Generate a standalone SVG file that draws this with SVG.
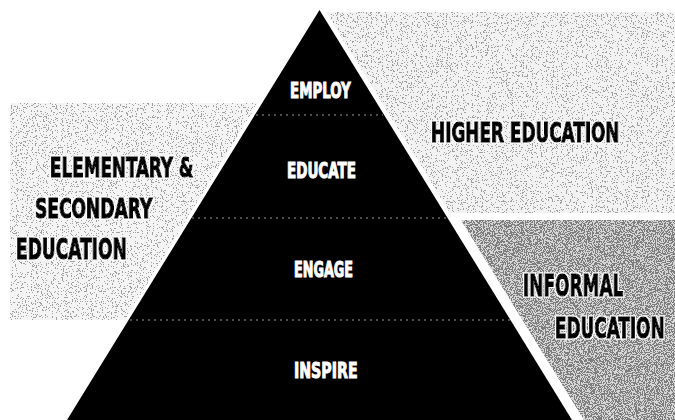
<svg xmlns="http://www.w3.org/2000/svg" width="675" height="420" viewBox="0 0 675 420">
<style>
.in{font-family:"DejaVu Sans Condensed","DejaVu Sans","Liberation Sans Narrow",sans-serif;font-weight:bold;fill:#fff;stroke:#fff;stroke-width:1}
.out{font-family:"DejaVu Sans Condensed","DejaVu Sans","Liberation Sans Narrow",sans-serif;font-weight:bold;fill:#000;stroke:#000;stroke-width:1.5}
.lbl{filter:url(#halo)}
.sep{stroke:#9a9a9a;stroke-width:1;stroke-dasharray:2 4}
</style>
<defs>
<filter id="halo" x="-5%" y="-10%" width="110%" height="120%">
<feMorphology in="SourceAlpha" operator="dilate" radius="1.2" result="d"/>
<feFlood flood-color="#fff"/>
<feComposite in2="d" operator="in" result="w"/>
<feMerge><feMergeNode in="w"/><feMergeNode in="SourceGraphic"/></feMerge>
</filter>
<filter id="speckLight" x="0" y="0" width="1" height="1">
<feTurbulence type="fractalNoise" baseFrequency="0.8" numOctaves="2" seed="4" result="n"/>
<feColorMatrix in="n" type="matrix" values="0 0 0 0 0.25  0 0 0 0 0.25  0 0 0 0 0.25  1 0 0 0 0" result="a"/>
<feComponentTransfer in="a" result="t"><feFuncA type="discrete" tableValues="0 0 0 0 0 0 0 0 0 0 0.85 0.85 0.85 0.85 0.85 0.85"/></feComponentTransfer>
<feComposite in="t" in2="SourceGraphic" operator="in" result="dots"/>
<feMerge><feMergeNode in="SourceGraphic"/><feMergeNode in="dots"/></feMerge>
</filter>
<filter id="speckDark" x="0" y="0" width="1" height="1">
<feTurbulence type="fractalNoise" baseFrequency="0.9" numOctaves="2" seed="9" result="n"/>
<feColorMatrix in="n" type="matrix" values="0 0 0 0 0.15  0 0 0 0 0.15  0 0 0 0 0.15  1 0 0 0 0" result="a"/>
<feComponentTransfer in="a" result="t"><feFuncA type="discrete" tableValues="0 0 0 0 0 0 0 0 0.9 0.9 0.9 0.9 0.9 0.9 0.9 0.9"/></feComponentTransfer>
<feComposite in="t" in2="SourceGraphic" operator="in" result="dots"/>
<feMerge><feMergeNode in="SourceGraphic"/><feMergeNode in="dots"/></feMerge>
</filter>
</defs>
<rect width="675" height="420" fill="#fff"/>
<g id="elementary-bg"><polygon points="10,103 258,103 125,320 10,320" fill="#f4f4f4" filter="url(#speckLight)"/></g>
<g id="higher-bg"><polygon points="326,12 675,12 675,213 450,213" fill="#f2f2f2" filter="url(#speckLight)"/></g>
<g id="informal-bg"><polygon points="461,220 675,220 675,420 584,420" fill="#d6d6d6" filter="url(#speckDark)"/></g>
<g id="pyramid"><polygon points="319.5,10 67,420 572,420" fill="#000"/></g>
<g id="connectors">
<line class="sep" x1="256" y1="115" x2="383" y2="115"/>
<line class="sep" x1="192" y1="218" x2="447" y2="218"/>
<line class="sep" x1="130" y1="320" x2="510" y2="320"/>
</g>
<g id="employ"><text class="in" font-size="21" transform="translate(290,98) scale(0.708,1)">EMPLOY</text></g>
<g id="educate"><text class="in" font-size="21" transform="translate(287,178) scale(0.714,1)">EDUCATE</text></g>
<g id="engage"><text class="in" font-size="21" transform="translate(294,277) scale(0.677,1)">ENGAGE</text></g>
<g id="inspire"><text class="in" font-size="22" transform="translate(294,378) scale(0.716,1)">INSPIRE</text></g>
<g id="higher-education" class="lbl"><text class="out" font-size="27" transform="translate(431,142) scale(0.696,1)">HIGHER EDUCATION</text></g>
<g id="elementary-secondary" class="lbl">
<text class="out" font-size="27" transform="translate(50,177) scale(0.692,1)">ELEMENTARY &amp;</text>
<text class="out" font-size="26" transform="translate(35,218) scale(0.731,1)">SECONDARY</text>
<text class="out" font-size="28" transform="translate(16,259) scale(0.678,1)">EDUCATION</text>
</g>
<g id="informal-education" class="lbl">
<text class="out" font-size="30" transform="translate(523,296) scale(0.629,1)">INFORMAL</text>
<text class="out" font-size="29" transform="translate(555,338) scale(0.648,1)">EDUCATION</text>
</g>
</svg>
